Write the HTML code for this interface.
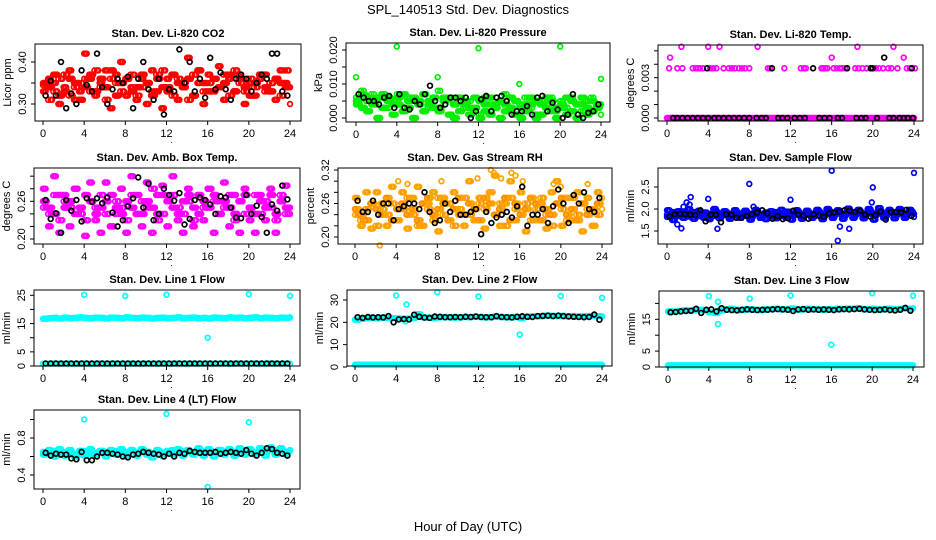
<!DOCTYPE html>
<html><head><meta charset="utf-8">
<style>
html,body{margin:0;padding:0;background:#fff;}
svg{display:block;font-family:"Liberation Sans",Arial,sans-serif;}
</style></head>
<body>
<svg id="chart" width="936" height="540" viewBox="0 0 936 540">
<text x="468" y="14" text-anchor="middle" font-size="13">SPL_140513  Std. Dev. Diagnostics</text>
<text x="468" y="531" text-anchor="middle" font-size="13">Hour of Day (UTC)</text>
</svg>
<script>
const H=[0,0.5,1,1.5,2,2.5,3,3.5,4,4.5,5,5.5,6,6.5,7,7.5,8,8.5,9,9.5,10,10.5,11,11.5,12,12.5,13,13.5,14,14.5,15,15.5,16,16.5,17,17.5,18,18.5,19,19.5,20,20.5,21,21.5,22,22.5,23,23.5,24];
const H2=[0.25,0.75,1.25,1.75,2.25,2.75,3.25,3.75,4.25,4.75,5.25,5.75,6.25,6.75,7.25,7.75,8.25,8.75,9.25,9.75,10.25,10.75,11.25,11.75,12.25,12.75,13.25,13.75,14.25,14.75,15.25,15.75,16.25,16.75,17.25,17.75,18.25,18.75,19.25,19.75,20.25,20.75,21.25,21.75,22.25,22.75,23.25,23.75];
const H3=[0.125,0.625,1.125,1.625,2.125,2.625,3.125,3.625,4.125,4.625,5.125,5.625,6.125,6.625,7.125,7.625,8.125,8.625,9.125,9.625,10.125,10.625,11.125,11.625,12.125,12.625,13.125,13.625,14.125,14.625,15.125,15.625,16.125,16.625,17.125,17.625,18.125,18.625,19.125,19.625,20.125,20.625,21.125,21.625,22.125,22.625,23.125,23.625];
const H4=[0.375,0.875,1.375,1.875,2.375,2.875,3.375,3.875,4.375,4.875,5.375,5.875,6.375,6.875,7.375,7.875,8.375,8.875,9.375,9.875,10.375,10.875,11.375,11.875,12.375,12.875,13.375,13.875,14.375,14.875,15.375,15.875,16.375,16.875,17.375,17.875,18.375,18.875,19.375,19.875,20.375,20.875,21.375,21.875,22.375,22.875,23.375,23.875];
const xTicks=[0,4,8,12,16,20,24];

// CO2
const co2A=[0.345,0.31,0.33,0.36,0.37,0.32,0.34,0.35,0.36,0.33,0.38,0.34,0.31,0.36,0.35,0.33,0.36,0.37,0.32,0.34,0.35,0.33,0.37,0.38,0.34,0.32,0.36,0.35,0.31,0.37,0.38,0.33,0.35,0.36,0.34,0.37,0.32,0.38,0.35,0.33,0.36,0.34,0.37,0.33,0.35,0.36,0.32,0.38,0.34];
const co2B=[0.33,0.36,0.35,0.30,0.34,0.38,0.31,0.33,0.42,0.36,0.32,0.35,0.38,0.29,0.37,0.40,0.32,0.34,0.31,0.36,0.30,0.38,0.33,0.29,0.36,0.37,0.31,0.34,0.41,0.32,0.35,0.30,0.37,0.33,0.39,0.31,0.36,0.33,0.37,0.30,0.35,0.32,0.36,0.37,0.33,0.31,0.38,0.35,0.30];
const co2C=[0.35,0.34,0.37,0.32,0.33,0.36,0.35,0.31,0.34,0.37,0.33,0.36,0.34,0.38,0.32,0.35,0.36,0.33,0.34,0.37,0.35,0.32,0.36,0.34,0.33,0.37,0.35,0.34,0.36,0.32,0.38,0.35,0.33,0.36,0.34,0.35,0.37,0.33,0.36,0.34,0.32,0.35,0.37,0.34,0.33,0.36,0.35,0.34];
const co2Black=[0.32,0.355,0.32,0.40,0.29,0.325,0.30,0.38,0.345,0.33,0.42,0.34,0.30,0.335,0.36,0.35,0.365,0.29,0.36,0.40,0.335,0.31,0.36,0.275,0.335,0.33,0.43,0.35,0.40,0.33,0.36,0.315,0.41,0.335,0.375,0.335,0.31,0.36,0.37,0.36,0.33,0.35,0.37,0.36,0.42,0.42,0.33,0.32];
// Pressure
const prA=[0.006,0.008,0.005,0.007,0.004,0.006,0.003,0.005,0.007,0.002,0.006,0.005,0.004,0.007,0.003,0.006,0.008,0.005,0.0055,0.004,0.006,0.003,0.005,0.002,0.001,0.006,0.004,0.003,0.005,0.007,0.002,0.005,0.004,0.006,0.003,0.001,0.005,0.004,0.006,0.002,0.005,0.003,0.006,0.004,0.002,0.005,0.006,0.003,0.004];
const prB=[0.004,0.003,0.002,0.005,0.0,0.003,0.006,0.001,0.004,0.002,0.003,0.0,0.005,0.002,0.004,0.003,0.002,0.006,0.001,0.0,0.002,0.004,0.001,0.003,0.0,0.002,0.001,0.004,0.0,0.002,0.003,0.001,0.0,0.002,0.004,0.0,0.001,0.003,0.002,0.0,0.003,0.001,0.002,0.0,0.004,0.001,0.002,0.003,0.001];
const prC=[0.005,0.007,0.006,0.004,0.006,0.007,0.005,0.004,0.006,0.007,0.005,0.006,0.004,0.007,0.005,0.006,0.003,0.005,0.006,0.004,0.006,0.005,0.003,0.006,0.005,0.004,0.006,0.003,0.005,0.004,0.006,0.005,0.003,0.004,0.006,0.005,0.004,0.006,0.005,0.003,0.004,0.006,0.005,0.004,0.006,0.003,0.005,0.004];
const prOutX=[0,4,8,12,16,20,24];
const prOutY=[0.012,0.021,0.012,0.0205,0.010,0.021,0.0115];
const prBlack=[0.007,0.006,0.005,0.005,0.004,0.006,0.0065,0.003,0.007,0.003,0.0025,0.005,0.004,0.007,0.0095,0.005,0.003,0.004,0.006,0.006,0.005,0.006,0.000,0.002,0.0055,0.0065,0.002,0.006,0.0065,0.005,0.001,0.002,0.002,0.0035,0.001,0.006,0.0065,0.002,0.0045,0.0025,0.000,0.001,0.007,0.001,0.000,0.0015,0.002,0.004];
// Li-820 Temp
const tpZero=[0,0,0,0,0,0,0,0,0,0,0,0,0,0,0,0,0,0,0,0,0,0,0,0,0,0,0,0,0,0,0,0,0,0,0,0,0,0,0,0,0,0,0,0,0,0,0,0,0];
const tpMidX=[0.2,1,1.5,2.5,2.8,3,3.2,3.5,4.2,4.5,4.8,5.5,6,6.3,6.6,7,7.3,7.6,8,9.8,10,11.4,13,13.3,13.5,15,15.2,15.4,15.6,16.2,16.5,16.8,17,17.3,18.3,18.6,19,19.4,19.8,20.3,20.6,21,21.5,21.8,22.4,23.3,23.6,24.1];
const tpMidY=[0.0037,0.0037,0.0037,0.0037,0.0037,0.0037,0.0037,0.0037,0.0037,0.0037,0.0037,0.0037,0.0037,0.0037,0.0037,0.0037,0.0037,0.0037,0.0037,0.0037,0.0037,0.0037,0.0037,0.0037,0.0037,0.0037,0.0037,0.0037,0.0037,0.0037,0.0037,0.0037,0.0037,0.0037,0.0037,0.0037,0.0037,0.0037,0.0037,0.0037,0.0037,0.0037,0.0037,0.0037,0.0037,0.0037,0.0037,0.0037];
const tpHiX=[0.3,1.4,4,5.1,8.8,16,18.5,22,23];
const tpHiY=[0.0045,0.0053,0.0053,0.0053,0.0053,0.0045,0.0053,0.0053,0.0045];
const tpBlackX=[0.6,1,1.5,2,2.5,3,3.5,3.9,4,4.6,5,5.5,6,6.5,7,7.5,8,8.7,9.2,9.6,10.2,10.8,11.2,11.7,12.4,12.9,13.4,14.2,14.8,15.3,15.8,16.6,17,17.5,18.4,18.9,19.3,19.8,20,20.4,21.1,21.6,22,22.6,23,23.4,23.8,23.9];
const tpBlackY=[0,0,0,0,0,0,0,0.0037,0,0,0,0,0,0,0,0,0,0,0,0,0.0037,0,0,0,0,0,0,0.0037,0,0,0,0,0,0.0037,0,0,0,0.0037,0.0037,0,0.0045,0,0,0,0,0,0.0037,0];
// Amb Box Temp
const abA=[0.25,0.24,0.27,0.23,0.26,0.25,0.28,0.24,0.23,0.26,0.25,0.27,0.24,0.22,0.26,0.25,0.23,0.27,0.24,0.26,0.25,0.28,0.23,0.24,0.26,0.27,0.25,0.24,0.26,0.23,0.27,0.25,0.28,0.26,0.24,0.25,0.27,0.23,0.26,0.24,0.25,0.27,0.24,0.26,0.25,0.23,0.27,0.24,0.25];
const abB=[0.28,0.22,0.30,0.21,0.27,0.22,0.28,0.25,0.205,0.29,0.23,0.21,0.29,0.22,0.24,0.28,0.21,0.30,0.24,0.22,0.29,0.21,0.27,0.285,0.22,0.30,0.23,0.21,0.28,0.22,0.27,0.23,0.28,0.21,0.26,0.29,0.22,0.27,0.21,0.28,0.23,0.21,0.27,0.23,0.28,0.21,0.26,0.285,0.24];
const abC=[0.26,0.25,0.24,0.27,0.25,0.26,0.24,0.25,0.27,0.26,0.24,0.25,0.26,0.27,0.25,0.24,0.26,0.25,0.27,0.24,0.26,0.25,0.24,0.27,0.26,0.25,0.24,0.26,0.27,0.25,0.24,0.26,0.25,0.27,0.24,0.26,0.25,0.24,0.26,0.27,0.25,0.24,0.26,0.25,0.27,0.24,0.26,0.25];
const abBlack=[0.262,0.232,0.241,0.21,0.262,0.245,0.262,0.228,0.265,0.259,0.265,0.257,0.266,0.242,0.22,0.23,0.252,0.265,0.298,0.25,0.288,0.23,0.24,0.28,0.27,0.261,0.273,0.223,0.232,0.262,0.266,0.262,0.255,0.24,0.268,0.266,0.25,0.234,0.233,0.27,0.24,0.253,0.235,0.21,0.255,0.245,0.285,0.263];
// Gas Stream RH
const rhA=[0.24,0.23,0.25,0.26,0.22,0.25,0.24,0.26,0.23,0.25,0.27,0.24,0.22,0.26,0.25,0.23,0.27,0.24,0.26,0.22,0.25,0.27,0.24,0.23,0.26,0.25,0.28,0.24,0.26,0.22,0.27,0.25,0.24,0.26,0.23,0.25,0.27,0.24,0.22,0.26,0.25,0.23,0.27,0.24,0.26,0.25,0.22,0.24,0.25];
const rhB=[0.27,0.22,0.28,0.215,0.28,0.26,0.22,0.29,0.23,0.28,0.215,0.27,0.29,0.22,0.26,0.28,0.21,0.27,0.23,0.28,0.24,0.22,0.30,0.23,0.27,0.215,0.28,0.31,0.22,0.26,0.30,0.23,0.28,0.21,0.27,0.23,0.26,0.215,0.28,0.30,0.22,0.27,0.23,0.28,0.21,0.27,0.22,0.28,0.27];
const rhC=[0.25,0.24,0.23,0.26,0.25,0.24,0.27,0.23,0.25,0.26,0.24,0.25,0.23,0.26,0.27,0.24,0.25,0.26,0.23,0.25,0.27,0.24,0.26,0.25,0.23,0.27,0.26,0.24,0.25,0.27,0.23,0.26,0.24,0.25,0.27,0.26,0.23,0.25,0.24,0.26,0.27,0.24,0.25,0.23,0.26,0.24,0.25,0.26];
const rhOutX=[2.4,4.2,5.1,8.4,11.9,13.2,13.5,14.2,15.2,15.6,16.3,19.3,20,22.6];
const rhOutY=[0.185,0.30,0.295,0.30,0.305,0.32,0.315,0.305,0.315,0.31,0.30,0.295,0.29,0.295];
const rhBlack=[0.265,0.245,0.245,0.265,0.24,0.26,0.26,0.23,0.25,0.255,0.26,0.26,0.25,0.28,0.245,0.225,0.23,0.26,0.245,0.265,0.24,0.24,0.245,0.25,0.205,0.245,0.225,0.235,0.24,0.245,0.235,0.255,0.29,0.22,0.24,0.24,0.25,0.225,0.255,0.285,0.26,0.225,0.275,0.26,0.28,0.25,0.245,0.27];
// Sample Flow
const sfA=[1.87,1.85,1.9,1.88,1.86,1.9,1.85,1.88,1.87,1.84,1.9,1.86,1.88,1.85,1.89,1.87,1.86,1.9,1.85,1.88,1.87,1.86,1.89,1.85,1.88,1.9,1.86,1.87,1.89,1.85,1.88,1.91,1.87,1.9,1.88,1.92,1.89,1.9,1.88,1.91,1.89,1.9,1.88,1.92,1.89,1.9,1.88,1.91,1.89];
const sfB=[1.97,1.75,1.95,1.8,2.0,1.78,1.96,1.8,1.77,2.0,1.79,1.95,1.78,1.97,1.8,1.96,1.76,1.98,1.8,1.77,1.95,1.79,1.98,1.8,1.76,1.97,1.78,1.96,1.8,1.98,1.77,2.0,1.8,1.97,1.78,2.01,1.8,1.98,1.79,2.0,1.76,2.02,1.8,1.98,1.79,2.0,1.8,1.98,1.82];
const sfC=[1.82,1.93,1.84,1.92,1.83,1.93,1.84,1.92,1.83,1.94,1.84,1.92,1.83,1.93,1.84,1.92,1.83,1.94,1.84,1.92,1.83,1.93,1.84,1.94,1.85,1.93,1.84,1.92,1.85,1.94,1.84,1.95,1.86,1.94,1.85,1.95,1.86,1.94,1.85,1.95,1.86,1.95,1.85,1.94,1.86,1.95,1.85,1.94];
const sfOutX=[1,1.4,1.6,1.9,2.2,2.3,4,4.9,8,8.4,12,16,16.6,16.8,17.7,19.9,20,24];
const sfOutY=[1.65,1.56,2.05,2.15,2.1,2.27,2.23,1.55,2.57,2.05,2.21,2.87,1.28,1.6,1.55,2.15,2.49,2.82];
const sfBlack=[1.83,1.88,1.89,1.88,1.87,1.86,1.97,1.72,1.87,1.87,1.7,1.88,1.87,1.8,1.8,1.84,1.88,1.92,1.97,1.9,1.78,1.84,1.77,1.79,1.96,1.87,1.85,1.78,1.88,1.85,1.82,1.9,1.92,1.94,1.97,1.96,1.93,1.96,1.87,1.83,1.86,1.94,1.76,1.93,1.93,1.92,1.98,1.84];
// Line 1
const l1A=[16.7,16.9,17.0,16.8,17.1,16.9,17.0,17.2,17.0,16.9,17.1,17.0,16.8,17.1,17.0,16.9,17.2,17.0,16.9,17.1,17.0,16.8,17.0,17.1,16.9,17.0,17.2,16.9,17.0,17.1,16.9,17.0,16.8,17.1,17.0,16.9,17.2,17.0,17.1,16.9,17.0,17.2,16.9,17.1,17.0,16.9,17.1,17.0,17.2];
const l1B=[0.8,0.8,0.9,0.8,0.8,0.9,0.8,0.8,0.9,0.8,0.8,0.9,0.8,0.8,0.9,0.8,0.8,0.9,0.8,0.8,0.9,0.8,0.8,0.9,0.8,0.8,0.9,0.8,0.8,0.9,0.8,0.8,0.9,0.8,0.8,0.9,0.8,0.8,0.9,0.8,0.8,0.9,0.8,0.8,0.9,0.8,0.8,0.9,0.8];
const l1OutX=[4,8,12,16,20,24];
const l1OutY=[25.2,24.8,25.2,10,25.4,24.8];
const l1Black=[0.9,0.9,0.9,0.9,0.9,0.9,0.9,0.9,0.9,0.9,0.9,0.9,0.9,0.9,0.9,0.9,0.9,0.9,0.9,0.9,0.9,0.9,0.9,0.9,0.9,0.9,0.9,0.9,0.9,0.9,0.9,0.9,0.9,0.9,0.9,0.9,0.9,0.9,0.9,0.9,0.9,0.9,0.9,0.9,0.9,0.9,0.9,0.9];
// Line 2
const l2A=[21.2,21.6,21.9,22.0,21.8,22.1,22.0,21.9,21.7,21.5,21.6,22.0,23.6,22.3,22.1,22.0,22.2,22.4,22.3,22.1,22.2,22.4,22.3,22.5,22.4,22.2,22.3,22.5,22.4,22.3,22.2,22.4,21.8,22.5,22.6,22.7,22.8,23.0,22.9,22.8,22.9,22.7,22.8,22.6,22.7,22.8,22.9,22.8,22.6];
const l2B=[1,1,1,1,1,1,1,1,1,1,1,1,1,1,1,1,1,1,1,1,1,1,1,1,1,1,1,1,1,1,1,1,1,1,1,1,1,1,1,1,1,1,1,1,1,1,1,1,1];
const l2OutX=[4,5,8,12,16,20,24,4.9];
const l2OutY=[32,28,33.5,31.5,14.5,31.8,31,20.5];
const l2Black=[22.3,22,22.4,22.2,22.3,22.2,22.8,20,21.3,21.5,21.3,23.4,22.5,22.1,22,22.6,22.5,22.3,22.3,22.4,22.3,22.5,22.4,22.6,22.4,22.3,22.3,22.8,22.4,22.3,22.2,22.5,22.7,22.5,22.4,22.8,22.9,23,22.8,23,22.8,22.6,22.5,22.4,22.3,22.4,23.5,21.2];
// Line 3
const l3A=[17.5,17.4,17.6,17.8,17.7,17.9,18.0,17.8,17.2,17.0,17.8,18.1,18.3,18.0,17.9,18.1,18.2,18.0,17.9,18.1,18.2,18.3,18.1,18.2,18.4,18.0,18.1,18.3,18.2,18.1,18.0,18.2,18.1,18.3,18.2,18.4,18.3,18.5,18.2,18.1,18.3,18.0,18.2,18.3,18.1,18.2,18.4,18.3,18.5];
const l3B=[0.5,0.5,0.5,0.5,0.5,0.5,0.5,0.5,0.5,0.5,0.5,0.5,0.5,0.5,0.5,0.5,0.5,0.5,0.5,0.5,0.5,0.5,0.5,0.5,0.5,0.5,0.5,0.5,0.5,0.5,0.5,0.5,0.5,0.5,0.5,0.5,0.5,0.5,0.5,0.5,0.5,0.5,0.5,0.5,0.5,0.5,0.5,0.5,0.5];
const l3OutX=[4,4.9,4.9,8,12,16,20,24];
const l3OutY=[22.3,20.5,13.5,21.5,22.5,7,23.2,22.4];
const l3Black=[17.2,17.3,17.5,17.6,17.7,18.3,17.0,18.0,18.1,17.5,18.5,18.0,17.9,17.8,18.0,18.1,18.0,17.9,18.0,18.0,18.1,18.2,18.1,18.0,17.6,18.1,18.2,18.0,18.1,18.0,18.1,18.0,17.9,18.1,18.2,18.1,18.2,18.3,18.1,18.0,17.9,18.0,18.1,17.9,17.8,18.0,18.6,17.7];
// Line 4
const l4A=[0.65,0.63,0.66,0.62,0.65,0.64,0.63,0.62,0.66,0.63,0.64,0.66,0.65,0.64,0.66,0.63,0.65,0.66,0.64,0.67,0.65,0.63,0.66,0.64,0.65,0.67,0.64,0.66,0.65,0.64,0.67,0.65,0.66,0.64,0.67,0.65,0.66,0.64,0.67,0.65,0.66,0.64,0.67,0.66,0.68,0.66,0.67,0.65,0.66];
const l4B=[0.62,0.67,0.6,0.68,0.61,0.67,0.6,0.66,0.61,0.68,0.62,0.66,0.6,0.67,0.62,0.68,0.6,0.67,0.61,0.68,0.62,0.59,0.67,0.61,0.66,0.62,0.68,0.61,0.67,0.62,0.69,0.61,0.68,0.6,0.67,0.62,0.68,0.61,0.69,0.62,0.68,0.62,0.69,0.61,0.7,0.62,0.69,0.62,0.67];
const l4OutX=[4,12,16,20];
const l4OutY=[1.0,1.06,0.27,0.97];
const l4Black=[0.64,0.61,0.63,0.62,0.62,0.58,0.57,0.65,0.56,0.56,0.6,0.64,0.64,0.63,0.62,0.6,0.59,0.62,0.63,0.65,0.64,0.63,0.62,0.6,0.63,0.6,0.64,0.63,0.66,0.65,0.64,0.64,0.64,0.65,0.63,0.64,0.65,0.64,0.63,0.67,0.63,0.61,0.64,0.69,0.68,0.64,0.63,0.61];

const panels=[
 {name:'co2',title:'Stan. Dev. Li-820 CO2',ylab:'Licor ppm',box:[35,301,44,121],xp:[43,290],yv:[0.30,0.40],yp:[104,62],yt:[0.30,0.35,0.40],yl:['0.30','','0.40'],
  series:[[H,co2A,'#ff0000'],[H,co2B,'#ff0000'],[H2,co2C,'#ff0000'],[H2,co2A,'#ff0000'],[H3,co2C,'#ff0000'],[H4,co2A,'#ff0000'],[H3,co2B,'#ff0000'],[H4,co2C,'#ff0000'],[H2,co2B,'#ff0000'],[H,co2C,'#ff0000'],[H2,co2Black,'#000']]},
 {name:'pressure',title:'Stan. Dev. Li-820 Pressure',ylab:'kPa',box:[346,610,43,122],xp:[356,601],yv:[0,0.02],yp:[118,50],yt:[0,0.005,0.01,0.015,0.02],yl:['0.000','','0.010','','0.020'],
  series:[[H,prA,'#00ee00'],[H,prB,'#00ee00'],[H2,prC,'#00ee00'],[H2,prA,'#00ee00'],[H3,prB,'#00ee00'],[H4,prC,'#00ee00'],[H3,prC,'#00ee00'],[H4,prB,'#00ee00'],[H,prC,'#00ee00'],[H2,prB,'#00ee00'],[prOutX,prOutY,'#00ee00'],[H2,prBlack,'#000']]},
 {name:'li820-temp',title:'Stan. Dev. Li-820 Temp.',ylab:'degrees C',box:[658,923,45,121],xp:[667,914],yv:[0,0.003],yp:[118,77.7],yt:[0,0.001,0.002,0.003,0.004,0.005],yl:['0.000','','','0.003','',''],
  series:[[H,tpZero,'#ff00ff'],[H2,tpZero,'#ff00ff'],[H3,tpZero,'#ff00ff'],[H4,tpZero,'#ff00ff'],[tpMidX,tpMidY,'#ff00ff'],[tpHiX,tpHiY,'#ff00ff'],[tpBlackX,tpBlackY,'#000']]},
 {name:'amb-box-temp',title:'Stan. Dev. Amb. Box Temp.',ylab:'degrees C',box:[34,300,168,244],xp:[43,290],yv:[0.20,0.26],yp:[239,201.3],yt:[0.20,0.22,0.24,0.26,0.28,0.30],yl:['0.20','','','0.26','',''],
  series:[[H,abA,'#ff00ff'],[H,abB,'#ff00ff'],[H2,abC,'#ff00ff'],[H2,abA,'#ff00ff'],[H3,abC,'#ff00ff'],[H4,abA,'#ff00ff'],[H3,abB,'#ff00ff'],[H4,abC,'#ff00ff'],[H,abC,'#ff00ff'],[H2,abB,'#ff00ff'],[H2,abBlack,'#000']]},
 {name:'gas-stream-rh',title:'Stan. Dev. Gas Stream RH',ylab:'percent',box:[338,612,168,244],xp:[355,602],yv:[0.20,0.32],yp:[237,170],yt:[0.20,0.22,0.24,0.26,0.28,0.30,0.32],yl:['0.20','','','0.26','','','0.32'],
  series:[[H,rhA,'#ffa500'],[H,rhB,'#ffb000'],[H2,rhC,'#ff9a00'],[H2,rhA,'#ff8c00'],[H3,rhC,'#ffb000'],[H4,rhA,'#ffa500'],[H3,rhB,'#ff9a00'],[H4,rhC,'#ffa500'],[H,rhC,'#ff8c00'],[H2,rhB,'#ffa500'],[rhOutX,rhOutY,'#ffa500'],[H2,rhBlack,'#000']]},
 {name:'sample-flow',title:'Stan. Dev. Sample Flow',ylab:'ml/min',box:[658,923,168,244],xp:[667,914],yv:[1.5,2.5],yp:[231,187],yt:[1.5,2.0,2.5],yl:['1.5','2.0','2.5'],
  series:[[H,sfA,'#0000ff'],[H,sfB,'#0000ff'],[H2,sfC,'#0000ff'],[H2,sfA,'#0000ff'],[H3,sfC,'#0000ff'],[H4,sfA,'#0000ff'],[H3,sfB,'#0000ff'],[H4,sfC,'#0000ff'],[H,sfC,'#0000ff'],[H2,sfB,'#0000ff'],[sfOutX,sfOutY,'#0000ff'],[H2,sfBlack,'#000']]},
 {name:'line1-flow',title:'Stan. Dev. Line 1 Flow',ylab:'ml/min',box:[34,300,290,366],xp:[43,290],yv:[0,25],yp:[366,295.3],yt:[0,5,10,15,20,25],yl:['0','5','','15','','25'],
  series:[[H,l1A,'#00ffff'],[H2,l1A,'#00ffff'],[H3,l1A,'#00ffff'],[H4,l1A,'#00ffff'],[H,l1B,'#00ffff'],[l1OutX,l1OutY,'#00ffff'],[H2,l1Black,'#000']]},
 {name:'line2-flow',title:'Stan. Dev. Line 2 Flow',ylab:'ml/min',box:[347,612,290,366],xp:[355,602],yv:[0,30],yp:[367,300],yt:[0,10,20,30],yl:['0','10','20','30'],
  series:[[H,l2A,'#00ffff'],[H2,l2A,'#00ffff'],[H3,l2A,'#00ffff'],[H4,l2A,'#00ffff'],[H,l2B,'#00ffff'],[H2,l2B,'#00ffff'],[H3,l2B,'#00ffff'],[H4,l2B,'#00ffff'],[l2OutX,l2OutY,'#00ffff'],[H2,l2Black,'#000']]},
 {name:'line3-flow',title:'Stan. Dev. Line 3 Flow',ylab:'ml/min',box:[659,924,291,367],xp:[668,913],yv:[0,15],yp:[367,319.3],yt:[0,5,10,15,20],yl:['0','5','','15',''],
  series:[[H,l3A,'#00ffff'],[H2,l3A,'#00ffff'],[H3,l3A,'#00ffff'],[H4,l3A,'#00ffff'],[H,l3B,'#00ffff'],[H2,l3B,'#00ffff'],[H3,l3B,'#00ffff'],[H4,l3B,'#00ffff'],[l3OutX,l3OutY,'#00ffff'],[H2,l3Black,'#000']]},
 {name:'line4-flow',title:'Stan. Dev. Line 4 (LT) Flow',ylab:'ml/min',box:[34,300,410,489],xp:[43,290],yv:[0.4,0.8],yp:[475,438],yt:[0.4,0.6,0.8,1.0],yl:['0.4','','0.8',''],
  series:[[H,l4A,'#00ffff'],[H,l4B,'#00ffff'],[H2,l4A,'#00ffff'],[H3,l4B,'#00ffff'],[H4,l4A,'#00ffff'],[H2,l4B,'#00ffff'],[l4OutX,l4OutY,'#00ffff'],[H2,l4Black,'#000']]}
];

const NS='http://www.w3.org/2000/svg';
const svg=document.getElementById('chart');
function mk(tag,attrs,parent){const e=document.createElementNS(NS,tag);for(const k in attrs)e.setAttribute(k,attrs[k]);(parent||svg).appendChild(e);return e;}

panels.forEach(p=>{
  const g=mk('g',{});
  
  
  const [l,r,t,b]=p.box;
  const sx=v=>p.xp[0]+(v/24)*(p.xp[1]-p.xp[0]);
  const sy=v=>p.yp[0]+(v-p.yv[0])/(p.yv[1]-p.yv[0])*(p.yp[1]-p.yp[0]);
  const tt=mk('text',{x:(l+r)/2,y:t-7,'text-anchor':'middle','font-size':'11','font-weight':'bold'},g);
  tt.textContent=p.title;
  
  
  const marks=mk('g',{fill:'none','stroke-width':'1.7'},g);
  
  
  p.series.forEach(s=>{
    const xs=s[0],ys=s[1];
    for(let i=0;i<ys.length&&i<xs.length;i++){
      const c=mk('circle',{cx:sx(xs[i]).toFixed(1),cy:sy(ys[i]).toFixed(1),r:'2.4',stroke:s[2]},marks);
      
      
    }
  });
  const bx=mk('rect',{x:l,y:t,width:r-l,height:b-t,fill:'none',stroke:'#000','stroke-width':'1'},g);
  
  
  const xa=mk('g',{},g);
  
  
  mk('line',{x1:sx(0),x2:sx(24),y1:b,y2:b,stroke:'#000'},xa);
  xTicks.forEach(v=>{
    mk('line',{x1:sx(v),x2:sx(v),y1:b,y2:b+4,stroke:'#000'},xa);
    const tx=mk('text',{x:sx(v),y:b+16,'text-anchor':'middle','font-size':'11'},xa);
    tx.textContent=String(v);
  });
  const dot=mk('text',{x:(sx(12)+sx(13))/2,y:b+22,'text-anchor':'middle','font-size':'9'},xa);
  dot.textContent='.';
  const ya=mk('g',{},g);
  
  
  mk('line',{x1:l,x2:l,y1:sy(p.yt[0]),y2:sy(p.yt[p.yt.length-1]),stroke:'#000'},ya);
  p.yt.forEach((v,i)=>{
    const y=sy(v);
    mk('line',{x1:l-4,x2:l,y1:y,y2:y,stroke:'#000'},ya);
    if(p.yl[i]){
      const tx=mk('text',{x:l-9,y:y,'text-anchor':'middle','font-size':'11',transform:`rotate(-90 ${l-9} ${y})`},ya);
      tx.textContent=p.yl[i];
    }
  });
  const yc=(t+b)/2;
  const yl=mk('text',{x:l-24,y:yc,'text-anchor':'middle','font-size':'11',transform:`rotate(-90 ${l-24} ${yc})`},g);
  yl.textContent=p.ylab;
  
  
});
</script>
</body></html>
